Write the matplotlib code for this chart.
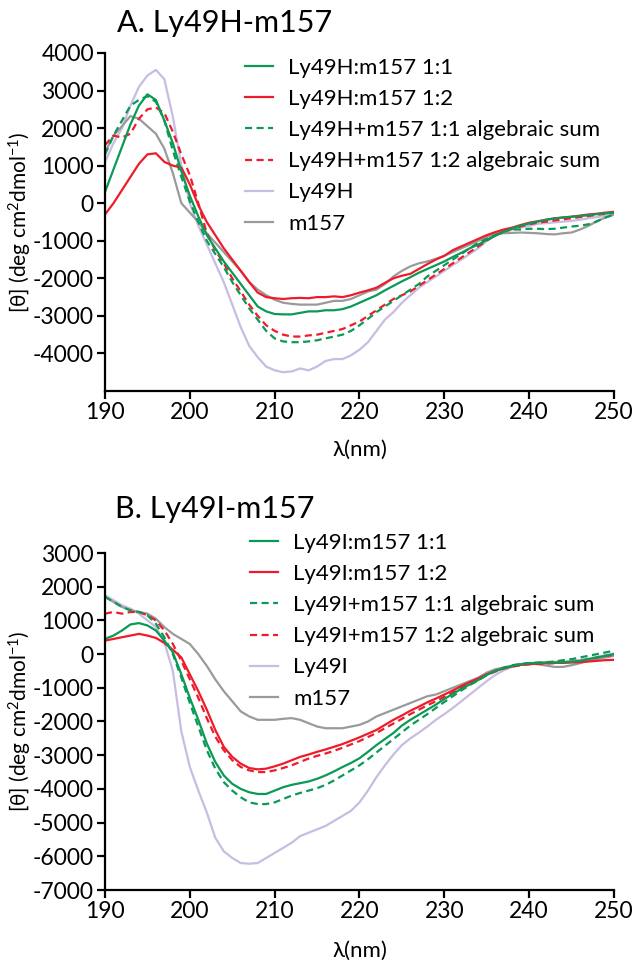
import matplotlib
matplotlib.use('Agg')
import matplotlib.pyplot as plt

plt.rcParams['font.family'] = ['Lato', 'DejaVu Sans']
plt.rcParams['mathtext.default'] = 'regular'
plt.rcParams['axes.unicode_minus'] = False

# ---------------- data ----------------
wavelength = list(range(190, 251))

# Panel A: Ly49H-m157
A_1to1 = [300, 900, 1500, 2100, 2600, 2900, 2750, 2200, 1600, 850,
          200, -350, -850, -1200, -1550, -1850, -2150, -2450, -2750, -2880,
          -2950, -2960, -2960, -2920, -2880, -2880, -2850, -2850, -2820, -2750,
          -2650, -2550, -2450, -2320, -2200, -2080, -1970, -1850, -1750, -1650,
          -1550, -1430, -1320, -1200, -1100, -980, -870, -760, -670, -600,
          -540, -490, -440, -410, -380, -360, -340, -320, -290, -270, -250]
A_1to2 = [-300, 0, 350, 700, 1050, 1300, 1330, 1100, 1000, 950,
          500, -50, -500, -850, -1200, -1500, -1800, -2100, -2380, -2500,
          -2530, -2550, -2530, -2520, -2530, -2500, -2500, -2480, -2500, -2450,
          -2380, -2320, -2250, -2120, -2000, -1930, -1880, -1750, -1620, -1500,
          -1400, -1250, -1150, -1050, -950, -850, -770, -700, -650, -580,
          -520, -480, -440, -400, -380, -360, -330, -300, -280, -250, -230]
A_sum_1to1 = [1300, 1800, 2200, 2600, 2750, 2850, 2700, 2200, 1400, 700,
              50, -500, -1000, -1350, -1700, -2100, -2450, -2800, -3100, -3400,
              -3600, -3680, -3700, -3700, -3680, -3650, -3600, -3550, -3500, -3400,
              -3250, -3080, -2900, -2750, -2600, -2450, -2300, -2150, -1950, -1800,
              -1650, -1500, -1350, -1200, -1050, -950, -850, -750, -700, -700,
              -680, -680, -690, -680, -650, -620, -600, -560, -480, -380, -300]
A_sum_1to2 = [1550, 1800, 1750, 1850, 2250, 2500, 2550, 2400, 1900, 1300,
              750, 0, -800, -1250, -1600, -2000, -2350, -2700, -3000, -3250,
              -3400, -3500, -3550, -3550, -3520, -3500, -3450, -3400, -3350, -3250,
              -3150, -3000, -2850, -2700, -2550, -2450, -2350, -2200, -2050, -1900,
              -1750, -1600, -1450, -1300, -1150, -1000, -850, -750, -680, -620,
              -560, -520, -490, -460, -430, -400, -370, -340, -310, -280, -250]
A_receptor = [1100, 1600, 2000, 2600, 3100, 3400, 3550, 3300, 2300, 1000,
              0, -600, -1100, -1600, -2100, -2700, -3300, -3800, -4100, -4350,
              -4450, -4500, -4480, -4400, -4450, -4350, -4200, -4150, -4150, -4050,
              -3900, -3700, -3400, -3100, -2900, -2650, -2450, -2250, -2100, -1950,
              -1800, -1650, -1500, -1350, -1200, -1000, -850, -780, -700, -650,
              -600, -550, -530, -510, -490, -470, -440, -400, -370, -330, -300]
A_m157 = [1350, 1800, 2050, 2320, 2250, 2050, 1850, 1450, 800, 0,
          -250, -500, -800, -1050, -1300, -1550, -1800, -2100, -2300, -2450,
          -2570, -2650, -2680, -2700, -2700, -2700, -2650, -2600, -2600, -2550,
          -2450, -2350, -2300, -2150, -1950, -1800, -1680, -1600, -1550, -1480,
          -1400, -1300, -1200, -1100, -1000, -900, -820, -800, -790, -780,
          -790, -800, -820, -830, -800, -780, -700, -600, -480, -380, -300]

# Panel B: Ly49I-m157
B_1to1 = [450, 550, 700, 880, 920, 850, 700, 400, 50, -600,
          -1300, -1950, -2650, -3200, -3600, -3850, -4000, -4100, -4150, -4150,
          -4050, -3950, -3880, -3830, -3780, -3700, -3600, -3480, -3350, -3230,
          -3090, -2900, -2700, -2520, -2340, -2120, -1950, -1800, -1650, -1500,
          -1330, -1180, -1030, -900, -770, -620, -500, -420, -350, -300,
          -270, -260, -250, -250, -240, -230, -200, -150, -100, -50, 0]
B_1to2 = [400, 450, 500, 550, 600, 550, 480, 330, 130, -100,
          -600, -1100, -1650, -2250, -2750, -3050, -3250, -3380, -3420, -3400,
          -3330, -3250, -3150, -3050, -2980, -2900, -2830, -2750, -2670, -2570,
          -2470, -2360, -2250, -2100, -1950, -1820, -1680, -1560, -1430, -1320,
          -1200, -1080, -950, -830, -720, -600, -500, -420, -360, -320,
          -300, -280, -270, -260, -260, -250, -240, -220, -200, -180, -170]
B_sum_1to1 = [1700, 1550, 1400, 1300, 1250, 1150, 900, 500, 0, -700,
              -1450, -2150, -2850, -3400, -3800, -4050, -4250, -4400, -4450, -4450,
              -4400, -4300, -4200, -4120, -4050, -3980, -3880, -3750, -3600, -3450,
              -3300, -3120, -2920, -2720, -2520, -2320, -2120, -1950, -1780, -1600,
              -1420, -1250, -1080, -920, -780, -620, -500, -400, -330, -290,
              -270, -250, -240, -220, -180, -150, -100, -50, 0, 50, 100]
B_sum_1to2 = [1200, 1250, 1200, 1250, 1250, 1150, 1000, 700, 300, -200,
              -750, -1300, -1900, -2450, -2850, -3150, -3350, -3450, -3500, -3500,
              -3450, -3380, -3300, -3200, -3100, -3020, -2950, -2870, -2780, -2680,
              -2580, -2460, -2340, -2200, -2060, -1920, -1780, -1650, -1520, -1400,
              -1270, -1140, -1000, -870, -750, -620, -520, -430, -370, -330,
              -300, -290, -280, -270, -250, -230, -200, -150, -100, -50, -30]
B_receptor = [1750, 1600, 1450, 1350, 1200, 1000, 800, 350, -500, -2300,
              -3350, -4050, -4700, -5450, -5850, -6050, -6200, -6220, -6200, -6050,
              -5900, -5750, -5600, -5400, -5300, -5200, -5100, -4950, -4800, -4650,
              -4400, -4050, -3650, -3300, -2980, -2700, -2500, -2330, -2150, -1950,
              -1780, -1600, -1400, -1200, -1000, -800, -620, -480, -380, -320,
              -280, -260, -240, -230, -220, -200, -170, -130, -80, -30, 20]
B_m157 = [1700, 1550, 1400, 1300, 1250, 1200, 1050, 800, 600, 450,
          300, 0, -350, -750, -1100, -1400, -1700, -1850, -1950, -1950,
          -1950, -1920, -1900, -1950, -2050, -2150, -2200, -2200, -2200, -2150,
          -2100, -2000, -1850, -1750, -1650, -1550, -1450, -1350, -1250, -1200,
          -1100, -1000, -900, -800, -700, -550, -450, -400, -350, -300,
          -280, -300, -340, -380, -380, -330, -270, -200, -150, -100, -50]

labels_A = ['Ly49H:m157 1:1', 'Ly49H:m157 1:2',
            'Ly49H+m157 1:1 algebraic sum', 'Ly49H+m157 1:2 algebraic sum',
            'Ly49H', 'm157']
labels_B = ['Ly49I:m157 1:1', 'Ly49I:m157 1:2',
            'Ly49I+m157 1:1 algebraic sum', 'Ly49I+m157 1:2 algebraic sum',
            'Ly49I', 'm157']
x_ticks = [190, 200, 210, 220, 230, 240, 250]
yticks_A = [-4000, -3000, -2000, -1000, 0, 1000, 2000, 3000, 4000]
yticks_B = [-7000, -6000, -5000, -4000, -3000, -2000, -1000, 0, 1000, 2000, 3000]

GREEN = '#0a9a55'
RED = '#ee1c2a'
LAV = '#c8bce2'
GRAY = '#9a9a9a'
DASH = (0, (3.2, 2.0))
LW = 1.6

W, H = 633, 963
fig = plt.figure(figsize=(W / 100, H / 100), dpi=100)


def make_panel(rect, series, labels, yticks, ylim, title, title_xy, legend_xy, xlabel_y):
    ax = fig.add_axes(rect)
    s11, s12, sum11, sum12, rec, m157 = series
    h_rec, = ax.plot(wavelength, rec, color=LAV, lw=LW)
    h_m, = ax.plot(wavelength, m157, color=GRAY, lw=LW)
    h_s12, = ax.plot(wavelength, sum12, color=RED, lw=LW, linestyle=DASH)
    h_s11, = ax.plot(wavelength, sum11, color=GREEN, lw=LW, linestyle=DASH)
    h_12, = ax.plot(wavelength, s12, color=RED, lw=LW)
    h_11, = ax.plot(wavelength, s11, color=GREEN, lw=LW)
    ax.set_xlim(190, 250)
    ax.set_ylim(*ylim)
    ax.set_xticks(x_ticks)
    ax.set_yticks(yticks)
    for sp in ['top', 'right']:
        ax.spines[sp].set_visible(False)
    for sp in ['left', 'bottom']:
        ax.spines[sp].set_linewidth(1.6)
        ax.spines[sp].set_color('black')
    ax.spines['left'].set_bounds(ylim[0], yticks[-1])
    ax.tick_params(axis='both', direction='out', length=6, width=1.6,
                   labelsize=16.5, pad=2, colors='black')
    fig.text(title_xy[0] / W, 1 - title_xy[1] / H, title, fontsize=22,
             ha='left', va='baseline')
    ax.legend([h_11, h_12, h_s11, h_s12, h_rec, h_m], labels,
              loc='upper left', bbox_to_anchor=(legend_xy[0] / W, 1 - legend_xy[1] / H),
              bbox_transform=fig.transFigure, frameon=False, fontsize=16,
              handlelength=1.26, handletextpad=0.68, labelspacing=0.5,
              borderpad=0, borderaxespad=0)
    fig.text((105 + 614) / 2 / W, 1 - xlabel_y / H, 'λ(nm)', fontsize=16,
             ha='center', va='center')
    ycen = (rect[1] + rect[1] + rect[3]) / 2
    fig.text(20 / W, ycen, '[θ] (deg cm$^{2}$dmol$^{-1}$)', fontsize=15,
             rotation=90, ha='center', va='center')
    return ax


make_panel([105 / W, 1 - 391 / H, 509 / W, 338 / H],
           [A_1to1, A_1to2, A_sum_1to1, A_sum_1to2, A_receptor, A_m157],
           labels_A, yticks_A, (-5000, 4000), 'A. Ly49H-m157', (117, 32), (245, 58), 450)
make_panel([105 / W, 1 - 890 / H, 509 / W, 337 / H],
           [B_1to1, B_1to2, B_sum_1to1, B_sum_1to2, B_receptor, B_m157],
           labels_B, yticks_B, (-7000, 3000), 'B. Ly49I-m157', (115, 518), (250, 533), 951)

fig.savefig('out.png', dpi=100)
